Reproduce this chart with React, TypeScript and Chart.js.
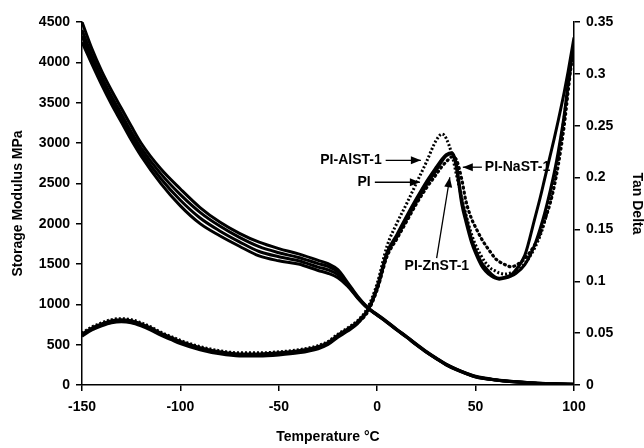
import React, { useEffect, useRef } from 'react';
import { Chart, registerables } from 'chart.js';

Chart.register(...registerables);

// ---------- Data ----------
const seriesNames = ['PI', 'PI-AlST-1', 'PI-ZnST-1', 'PI-NaST-1'];

// Storage modulus (MPa), left axis
const tempsModulus = [-150, -145, -140, -135, -130, -125, -120, -110, -100, -90, -80, -70, -60, -50, -40, -30, -25, -20, -15, -10, -5, 0, 5, 10, 15, 20, 25, 30, 35, 40, 45, 50, 60, 70, 80, 90, 100];
const modulusAlST = [4500, 4170, 3890, 3650, 3430, 3210, 3000, 2680, 2430, 2200, 2020, 1880, 1770, 1690, 1625, 1545, 1505, 1430, 1270, 1100, 965, 875, 785, 690, 600, 505, 415, 335, 260, 200, 150, 108, 66, 42, 26, 16, 9];
const modulusPI = [4400, 4090, 3820, 3580, 3360, 3140, 2940, 2620, 2360, 2140, 1970, 1830, 1715, 1640, 1580, 1505, 1470, 1400, 1255, 1092, 960, 870, 780, 686, 596, 500, 410, 330, 256, 196, 146, 104, 64, 40, 24, 15, 8];
const modulusZnST = [4330, 4030, 3770, 3530, 3310, 3090, 2890, 2560, 2290, 2070, 1910, 1775, 1655, 1590, 1540, 1462, 1428, 1365, 1240, 1086, 958, 868, 778, 683, 593, 498, 408, 328, 253, 193, 144, 102, 63, 39, 24, 15, 8];
const modulusNaST = [4250, 3980, 3720, 3480, 3260, 3040, 2840, 2500, 2220, 2000, 1850, 1720, 1600, 1540, 1500, 1420, 1385, 1330, 1225, 1080, 955, 865, 775, 680, 590, 495, 405, 325, 250, 190, 142, 100, 62, 38, 23, 14, 7];

// Tan delta, right axis
const tempsTan = [-150, -145, -140, -135, -130, -125, -120, -115, -110, -105, -100, -90, -80, -70, -60, -50, -40, -30, -25, -20, -15, -10, -5, 0, 5, 10, 15, 20, 25, 30, 33, 35, 38, 40, 43, 45, 48, 50, 53, 55, 58, 60, 62, 65, 68, 70, 75, 80, 83, 85, 88, 90, 92, 95, 97, 100];
const tanPI = [0.049, 0.055, 0.059, 0.062, 0.063, 0.062, 0.059, 0.055, 0.050, 0.046, 0.042, 0.036, 0.032, 0.030, 0.030, 0.031, 0.033, 0.037, 0.041, 0.048, 0.054, 0.061, 0.072, 0.095, 0.128, 0.145, 0.163, 0.180, 0.196, 0.210, 0.218, 0.222, 0.224, 0.215, 0.178, 0.163, 0.140, 0.130, 0.118, 0.113, 0.107, 0.104, 0.103, 0.104, 0.106, 0.110, 0.125, 0.160, 0.182, 0.198, 0.222, 0.238, 0.255, 0.282, 0.302, 0.335];
const tanZnST = [0.047, 0.053, 0.057, 0.060, 0.061, 0.060, 0.057, 0.053, 0.048, 0.044, 0.040, 0.034, 0.030, 0.028, 0.028, 0.029, 0.031, 0.035, 0.039, 0.046, 0.052, 0.059, 0.071, 0.093, 0.126, 0.143, 0.160, 0.177, 0.193, 0.207, 0.216, 0.221, 0.223, 0.212, 0.174, 0.158, 0.137, 0.127, 0.115, 0.110, 0.105, 0.103, 0.102, 0.103, 0.105, 0.107, 0.116, 0.135, 0.152, 0.165, 0.188, 0.205, 0.225, 0.260, 0.290, 0.330];
const tanAlST = [0.050, 0.056, 0.060, 0.063, 0.064, 0.063, 0.060, 0.056, 0.051, 0.047, 0.043, 0.037, 0.033, 0.031, 0.031, 0.032, 0.034, 0.038, 0.042, 0.049, 0.055, 0.062, 0.074, 0.098, 0.134, 0.156, 0.175, 0.195, 0.215, 0.236, 0.242, 0.238, 0.222, 0.205, 0.180, 0.165, 0.145, 0.135, 0.124, 0.118, 0.112, 0.110, 0.108, 0.107, 0.108, 0.109, 0.117, 0.132, 0.145, 0.157, 0.180, 0.198, 0.220, 0.258, 0.288, 0.330];
const tanNaST = [0.048, 0.054, 0.058, 0.061, 0.062, 0.061, 0.058, 0.054, 0.049, 0.045, 0.041, 0.035, 0.031, 0.029, 0.029, 0.030, 0.032, 0.036, 0.040, 0.047, 0.053, 0.060, 0.070, 0.092, 0.124, 0.141, 0.158, 0.175, 0.190, 0.203, 0.211, 0.215, 0.220, 0.218, 0.198, 0.178, 0.160, 0.152, 0.141, 0.135, 0.127, 0.122, 0.119, 0.116, 0.114, 0.115, 0.122, 0.135, 0.147, 0.158, 0.176, 0.192, 0.212, 0.250, 0.283, 0.332];

// Axis ticks
const tempTicks = [-150, -100, -50, 0, 50, 100];
const tempTickLabels = ['-150', '-100', '-50', '0', '50', '100'];
const modulusTicks = [0, 500, 1000, 1500, 2000, 2500, 3000, 3500, 4000, 4500];
const modulusTickLabels = ['0', '500', '1000', '1500', '2000', '2500', '3000', '3500', '4000', '4500'];
const tanTicks = [0, 0.05, 0.1, 0.15, 0.2, 0.25, 0.3, 0.35];
const tanTickLabels = ['0', '0.05', '0.1', '0.15', '0.2', '0.25', '0.3', '0.35'];

// Arrow annotations, in data coordinates (temperature, tan delta)
const annotationLabels = ['PI-AlST-1', 'PI', 'PI-NaST-1', 'PI-ZnST-1'];
const annotationTips = [[22.2, 0.2166], [21.7, 0.1955], [43.5, 0.21], [36.9, 0.2003]];
const annotationTails = [[4.3, 0.2166], [-1.2, 0.1955], [53.2, 0.21], [30.2, 0.1223]];
const annotationText = [[2.3, 0.2166], [-3.3, 0.1955], [54.7, 0.21], [30.3, 0.1146]];
const annotationAlign: CanvasTextAlign[] = ['right', 'right', 'left', 'center'];

const FONT = '"Liberation Sans", Arial, Helvetica, sans-serif';

const toPoints = (xs: number[], ys: number[]) => xs.map((x, i) => ({ x, y: ys[i] }));

const arrowPlugin = {
  id: 'arrowLabels',
  afterDatasetsDraw(chart: any) {
    const { ctx } = chart;
    const xs = chart.scales.x;
    const ys = chart.scales.y1;
    ctx.save();
    ctx.fillStyle = '#000';
    ctx.strokeStyle = '#000';
    ctx.lineWidth = 1.3;
    ctx.font = `bold 14px ${FONT}`;
    annotationLabels.forEach((label, i) => {
      const tx = xs.getPixelForValue(annotationTips[i][0]);
      const ty = ys.getPixelForValue(annotationTips[i][1]);
      const sx = xs.getPixelForValue(annotationTails[i][0]);
      const sy = ys.getPixelForValue(annotationTails[i][1]);
      ctx.beginPath();
      ctx.moveTo(sx, sy);
      ctx.lineTo(tx, ty);
      ctx.stroke();
      const ang = Math.atan2(ty - sy, tx - sx);
      const L = 10, W = 4;
      const c = Math.cos(ang), s = Math.sin(ang);
      ctx.beginPath();
      ctx.moveTo(tx, ty);
      ctx.lineTo(tx - L * c + W * s, ty - L * s - W * c);
      ctx.lineTo(tx - L * c - W * s, ty - L * s + W * c);
      ctx.closePath();
      ctx.fill();
      ctx.textAlign = annotationAlign[i];
      ctx.textBaseline = 'middle';
      ctx.fillText(label, xs.getPixelForValue(annotationText[i][0]), ys.getPixelForValue(annotationText[i][1]));
    });
    ctx.restore();
  },
};

export default function App() {
  const canvasRef = useRef<HTMLCanvasElement | null>(null);

  useEffect(() => {
    if (!canvasRef.current) return;
    const black = '#000000';
    const modulusSets = [modulusPI, modulusAlST, modulusZnST, modulusNaST];
    const tanSets = [tanPI, tanAlST, tanZnST, tanNaST];
    const tanDash = [[], [2, 2], [], [1, 4]];
    const datasets: any[] = [];
    modulusSets.forEach((arr, i) => {
      datasets.push({
        label: `${seriesNames[i]} E'`,
        data: toPoints(tempsModulus, arr),
        yAxisID: 'y',
        borderColor: black,
        borderWidth: 3,
        pointRadius: 0,
        cubicInterpolationMode: 'monotone',
        fill: false,
      });
    });
    tanSets.forEach((arr, i) => {
      datasets.push({
        label: `${seriesNames[i]} tan δ`,
        data: toPoints(tempsTan, arr),
        yAxisID: 'y1',
        borderColor: black,
        borderWidth: i === 3 ? 3.2 : 3,
        borderDash: tanDash[i],
        borderCapStyle: i === 3 ? 'round' : 'butt',
        pointRadius: 0,
        cubicInterpolationMode: 'monotone',
        fill: false,
      });
    });

    const tickFont = { family: FONT, size: 14, weight: 'bold' as const };
    const gridCommon = {
      display: true,
      drawOnChartArea: false,
      drawTicks: true,
      tickLength: 6,
      color: black,
      lineWidth: 1.5,
    };

    const chart = new Chart(canvasRef.current, {
      type: 'line',
      data: { datasets },
      plugins: [arrowPlugin],
      options: {
        animation: false,
        responsive: false,
        layout: { padding: { top: 22, left: 0, right: 0, bottom: 0 } },
        plugins: { legend: { display: false }, tooltip: { enabled: false } },
        scales: {
          x: {
            type: 'linear',
            min: -150,
            max: 100,
            afterBuildTicks: (s: any) => { s.ticks = tempTicks.map((v) => ({ value: v })); },
            afterFit: (s: any) => { s.height = 63; },
            ticks: {
              color: black,
              font: tickFont,
              padding: 8,
              maxRotation: 0,
              callback: (_v: any, idx: number) => tempTickLabels[idx],
            },
            grid: gridCommon,
            border: { display: true, color: black, width: 1.5 },
            title: {
              display: true,
              text: 'Temperature °C',
              color: black,
              font: { family: FONT, size: 14, weight: 'bold' },
              padding: { top: 0, bottom: 2 },
            },
          },
          y: {
            type: 'linear',
            position: 'left',
            min: 0,
            max: 4500,
            afterBuildTicks: (s: any) => { s.ticks = modulusTicks.map((v) => ({ value: v })); },
            afterFit: (s: any) => { s.width = 82; },
            ticks: {
              color: black,
              font: tickFont,
              padding: 6,
              callback: (_v: any, idx: number) => modulusTickLabels[idx],
            },
            grid: gridCommon,
            border: { display: true, color: black, width: 1.5 },
            title: {
              display: true,
              text: 'Storage Modulus MPa',
              color: black,
              font: { family: FONT, size: 14, weight: 'bold' },
              padding: { top: 10, bottom: 0 },
            },
          },
          y1: {
            type: 'linear',
            position: 'right',
            min: 0,
            max: 0.35,
            afterBuildTicks: (s: any) => { s.ticks = tanTicks.map((v) => ({ value: v })); },
            afterFit: (s: any) => { s.width = 70; },
            ticks: {
              color: black,
              font: tickFont,
              padding: 6,
              callback: (_v: any, idx: number) => tanTickLabels[idx],
            },
            grid: gridCommon,
            border: { display: true, color: black, width: 1.5 },
            title: {
              display: true,
              text: 'Tan Delta',
              color: black,
              font: { family: FONT, size: 14, weight: 'bold', lineHeight: 1 },
              padding: { top: 0, bottom: 0 },
            },
          },
        },
      },
    });
    return () => chart.destroy();
  }, []);

  return (
    <div style={{ position: 'fixed', left: 0, top: 0, width: 644, height: 448, background: '#ffffff' }}>
      <canvas ref={canvasRef} width={644} height={448} style={{ display: 'block' }} />
    </div>
  );
}
